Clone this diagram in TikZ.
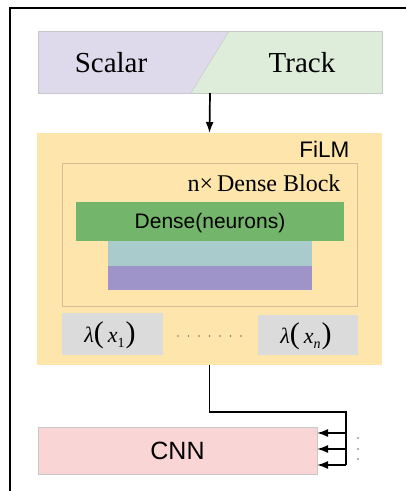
\documentclass[tikz,border=0pt]{standalone}
\usepackage{fontspec}
\setmainfont{Liberation Serif}
\setsansfont{Liberation Sans}
\usetikzlibrary{arrows.meta,calc}

\definecolor{scalarfill}{HTML}{DEDAEC}
\definecolor{trackfill}{HTML}{DDEDDA}
\definecolor{filmfill}{HTML}{FDE5AC}
\definecolor{densefill}{HTML}{73B56A}
\definecolor{tealfill}{HTML}{A9CBCC}
\definecolor{purplefill}{HTML}{9F94C9}
\definecolor{lamfill}{HTML}{DBDBDB}
\definecolor{cnnfill}{HTML}{FAD5D5}
\definecolor{edgegray}{HTML}{C8C8C8}
\definecolor{blockedge}{HTML}{D2BE96}

% large parentheses and lowered subscript for the lambda labels
\newcommand{\bigparen}[1]{{\fontsize{30}{30}\selectfont #1}}
\newcommand{\lowsub}[1]{\raisebox{-5pt}{\fontsize{14}{14}\selectfont #1}}

\tikzset{
  box/.style={rectangle, inner sep=0pt, outer sep=0pt},
  lightedge/.style={draw=edgegray, line width=0.7pt},
  wire/.style={line width=1.7pt, black},
  tip/.style={-{Latex[length=11pt,width=8pt]}},
  serif/.style={font=\fontsize{29}{29}\selectfont},
  sanslabel/.style={font=\sffamily\fontsize{22.5}{22.5}\selectfont},
  lamlabel/.style={font=\fontsize{22}{22}\selectfont, inner sep=0pt},
}

\begin{document}
\begin{tikzpicture}[x=1pt,y=-1pt]
\clip (0,0) rectangle (406,491);
\useasboundingbox (0,0) rectangle (406,491);
\fill[white] (0,0) rectangle (406,491);

% outer frame (runs off the right and bottom edges)
\draw[line width=2pt] (10,500) -- (10,8) -- (420,8);

% input bar split into Scalar and Track
\node[box, minimum width=344pt, minimum height=62pt] (inp) at (210,62) {};
\fill[scalarfill] (inp.north west) -- ($(inp.north west)+(191,0)$) -- ($(inp.south west)+(153,0)$) -- (inp.south west) -- cycle;
\fill[trackfill] ($(inp.north west)+(191,0)$) -- (inp.north east) -- (inp.south east) -- ($(inp.south west)+(153,0)$) -- cycle;
\draw[lightedge] (inp.north west) rectangle (inp.south east);
\draw[edgegray, line width=0.5pt] ($(inp.north west)+(191,0)$) -- ($(inp.south west)+(153,0)$);
\node[serif] (scalar) at (111,63) {Scalar};
\node[serif] (track) at (302,63) {Track};

% FiLM block
\node[box, fill=filmfill, minimum width=345pt, minimum height=232pt] (film) at (209.5,249) {};
\node[sanslabel, anchor=east] (filmlbl) at ($(film.north east)+(-29,16)$) {FiLM};

% dense block
\node[box, draw=blockedge, line width=0.7pt, minimum width=295pt, minimum height=143pt] (dblock) at (209.5,234.5) {};
\node[font=\fontsize{24}{24}\selectfont, anchor=east] (dblbl) at ($(dblock.north east)+(-13,20)$) {n×\,Dense Block};
\node[box, fill=densefill, minimum width=268pt, minimum height=39pt] (dense) at (210,221.5) {};
\node[font=\sffamily\fontsize{21}{21}\selectfont] (denselbl) at (210,223) {Dense(neurons)};
\node[box, fill=tealfill, minimum width=204pt, minimum height=25pt] (teal) at (210,253.5) {};
\node[box, fill=purplefill, minimum width=204pt, minimum height=24pt] (purple) at (210,278) {};

% conditioning parameters
\node[box, fill=lamfill, minimum width=101pt, minimum height=42pt] (lam1) at (112.5,334) {};
\node[lamlabel] (lam1lbl) at (110,335) {\itshape λ\upshape\bigparen{(}\hspace{4pt}\itshape x\upshape\lowsub{1}\hspace{1pt}\bigparen{)}};
\node[box, fill=lamfill, minimum width=100pt, minimum height=40pt] (lamn) at (308,335) {};
\node[lamlabel] (lamnlbl) at (306,336) {\itshape λ\upshape\bigparen{(}\hspace{4pt}\itshape x\lowsub{n}\upshape\hspace{1pt}\bigparen{)}};
\foreach \i in {0,...,6}
  \fill[black!55] (178+\i*10.5,336) circle (0.9pt);

% CNN
\node[box, fill=cnnfill, lightedge, minimum width=279pt, minimum height=47pt, font=\sffamily\fontsize{25}{25}\selectfont] (cnn) at (177.5,450.5) {CNN};

% connectors
\draw[wire, tip] (inp.south) -- (film.north);
\coordinate (turn) at (346,412);
\coordinate (b1) at (346,433);
\coordinate (b2) at (346,449);
\coordinate (b3) at (346,465);
\draw[wire] (film.south) |- (turn) -- (b3);
\draw[wire, tip] (b1) -- (b1 -| cnn.east);
\draw[wire, tip] (b2) -- (b2 -| cnn.east);
\draw[wire, tip] (b3) -- (b3 -| cnn.east);
\foreach \yy in {438,449,459}
  \fill[black!40] (358,\yy) circle (1.2pt);
\end{tikzpicture}
\end{document}
